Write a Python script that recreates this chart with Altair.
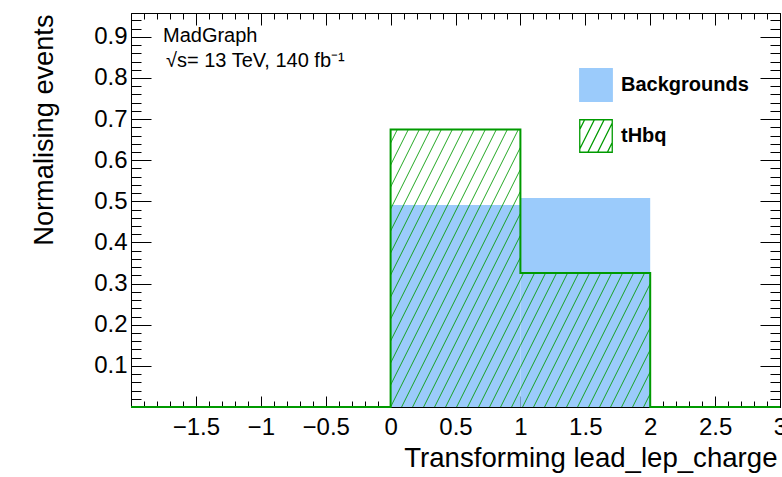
import altair as alt
import pandas as pd
import numpy as np

# ---------------- data ----------------
bin_lo = [-2, -1, 0, 1, 2]
bin_hi = [-1, 0, 1, 2, 3]
bkg_vals = [0.0, 0.0, 0.491, 0.508, 0.0]     # Backgrounds
thq_vals = [0.0, 0.0, 0.675, 0.326, 0.0]     # tHbq
series = ["Backgrounds", "tHbq"]
x_label_vals = [-1.5, -1, -0.5, 0, 0.5, 1, 1.5, 2, 2.5, 3]
y_label_vals = [0.1, 0.2, 0.3, 0.4, 0.5, 0.6, 0.7, 0.8, 0.9]
note_lines = ["MadGraph", "\u221as= 13 TeV, 140 fb\u207b\u00b9"]
x_title = "Transforming lead_lep_charge"
y_title = "Normalising events"

# ---------------- style / layout ----------------
X_DOMAIN = [-2, 3]
Y_DOMAIN = [0, 0.958]
W, H = 649, 394
GREEN = "#009a00"
BLUE = "#9bcbfb"
FONT = "Liberation Sans"

hist = pd.DataFrame({"lo": bin_lo, "hi": bin_hi, "bkg": bkg_vals, "thq": thq_vals})
step = pd.DataFrame({"x": bin_lo + [bin_hi[-1]], "y": thq_vals + [thq_vals[-1]]})

# hatch pattern segments for the tHbq histogram (style: "/" lines, pixel slope 2:1, 11px apart)
px_x = W / (X_DOMAIN[1] - X_DOMAIN[0])
px_y = H / (Y_DOMAIN[1] - Y_DOMAIN[0])
k = (px_y / 2.0) / px_x
gap = 11.0 / px_x
segs = []
for lo, hi, h in zip(bin_lo, bin_hi, thq_vals):
    if h <= 0:
        continue
    i0 = int(np.floor((lo - k * h) / gap))
    i1 = int(np.ceil(hi / gap))
    for i in range(i0, i1 + 1):
        c = i * gap
        ya = max(0.0, (lo - c) / k)
        yb = min(h, (hi - c) / k)
        if yb > ya:
            segs.append({"x1": c + k * ya, "y1": ya, "x2": c + k * yb, "y2": yb})
hatch = pd.DataFrame(segs)

x_scale = alt.Scale(domain=X_DOMAIN, nice=False, zero=False)
y_scale = alt.Scale(domain=Y_DOMAIN, nice=False, zero=False)


def tick_axis(orient, offset, count, size):
    # inward-pointing ROOT-style ticks: an axis of the opposite side moved onto this edge
    return alt.Axis(orient=orient, offset=offset, labels=False, domain=False, grid=False,
                    title=None, tickCount=count, tickColor="black", tickWidth=1,
                    tickSize=size)


x_lab_axis = alt.Axis(orient="bottom", values=x_label_vals, format="~g", ticks=False, tickSize=0,
                      domain=False, grid=False, labelFont=FONT, labelFontSize=24,
                      labelColor="black", labelPadding=8, labelFlush=False, labelOverlap=False,
                      title=x_title, titleFont=FONT, titleFontSize=27.6, titleFontWeight="normal",
                      titleColor="black", titleAlign="right", titleBaseline="alphabetic",
                      titleX=W - 3, titleY=59)
y_lab_axis = alt.Axis(orient="left", values=y_label_vals, format="~g", ticks=False, tickSize=0,
                      domain=False, grid=False, labelFont=FONT, labelFontSize=24,
                      labelColor="black", labelPadding=4, labelOverlap=False,
                      title=y_title, titleFont=FONT, titleFontSize=27.2, titleFontWeight="normal",
                      titleColor="black", titleAngle=270, titleAlign="right",
                      titleBaseline="alphabetic", titleX=-79, titleY=1)

bkg_layer = alt.Chart(hist).mark_rect(color=BLUE, strokeWidth=0).encode(
    x=alt.X("lo:Q", scale=x_scale, axis=x_lab_axis),
    x2="hi:Q",
    y=alt.Y("bkg:Q", scale=y_scale, axis=y_lab_axis),
    y2=alt.datum(0),
)

# hatch lines (carry major ticks on the bottom and left edges)
hatch_layer = alt.Chart(hatch).mark_rule(color=GREEN, strokeWidth=1, opacity=0.85).encode(
    x=alt.X("x1:Q", scale=x_scale, axis=tick_axis("top", -H, 10, 11)),
    x2="x2:Q",
    y=alt.Y("y1:Q", scale=y_scale, axis=tick_axis("right", -W, 10, 20)),
    y2="y2:Q",
)
# invisible copy (carries minor ticks on the bottom and left edges)
hatch_minor = alt.Chart(hatch).mark_rule(opacity=0).encode(
    x=alt.X("x1:Q", scale=x_scale, axis=tick_axis("top", -H, 50, 6)),
    x2="x2:Q",
    y=alt.Y("y1:Q", scale=y_scale, axis=tick_axis("right", -W, 48, 10)),
    y2="y2:Q",
)

# tHbq outline (carries major ticks on the top and right edges)
line_layer = alt.Chart(step).mark_line(interpolate="step-after", color=GREEN, strokeWidth=2).encode(
    x=alt.X("x:Q", scale=x_scale, axis=tick_axis("bottom", -H, 10, 12)),
    y=alt.Y("y:Q", scale=y_scale, axis=tick_axis("left", -W, 10, 20)),
)
# invisible copy (carries minor ticks on the top and right edges)
line_minor = alt.Chart(step).mark_line(interpolate="step-after", opacity=0).encode(
    x=alt.X("x:Q", scale=x_scale, axis=tick_axis("bottom", -H, 50, 6)),
    y=alt.Y("y:Q", scale=y_scale, axis=tick_axis("left", -W, 48, 10)),
)

SQUARE = "M-1,-1L1,-1L1,1L-1,1Z"
HATCHED = ("M-1,-1L1,-1L1,1L-1,1Z M-1,-0.4L-0.7,-1 M-1,0.8L-0.1,-1 M-0.5,1L0.5,-1 "
           "M0.1,1L1,-0.8 M0.7,1L1,0.4")

leg = alt.Legend(title=None, orient="none", legendX=448, legendY=55, padding=0,
                 symbolSize=1056, symbolStrokeWidth=1.3, symbolOpacity=1,
                 labelFont=FONT, labelFontSize=20, labelFontWeight="bold", labelColor="black",
                 labelOffset=8, rowPadding=13)

legend_layer = alt.Chart(pd.DataFrame({"series": series})).mark_point(filled=True, opacity=0).encode(
    fill=alt.Fill("series:N", scale=alt.Scale(domain=series, range=[BLUE, "white"]), legend=leg),
    stroke=alt.Stroke("series:N", scale=alt.Scale(domain=series, range=[BLUE, GREEN]), legend=leg),
    shape=alt.Shape("series:N", scale=alt.Scale(domain=series, range=[SQUARE, HATCHED]), legend=leg),
)

note1 = alt.Chart(pd.DataFrame({"t": [note_lines[0]]})).mark_text(
    align="left", baseline="alphabetic", font=FONT, fontSize=20, color="black"
).encode(text="t:N", x=alt.value(32), y=alt.value(29))
note2 = alt.Chart(pd.DataFrame({"t": [note_lines[1]]})).mark_text(
    align="left", baseline="alphabetic", font=FONT, fontSize=20, color="black"
).encode(text="t:N", x=alt.value(35), y=alt.value(54))

chart = alt.layer(bkg_layer, hatch_layer, hatch_minor, line_layer, line_minor,
                  legend_layer, note1, note2).resolve_axis(
    x="independent", y="independent"
).properties(
    width=W, height=H,
    padding={"left": 131, "top": 13, "right": 2, "bottom": 70},
    autosize=alt.AutoSizeParams(type="none"),
    background="white",
).configure_view(stroke="black", strokeWidth=1)

chart.save("out.html", embed_options={"renderer": "svg", "actions": False})
